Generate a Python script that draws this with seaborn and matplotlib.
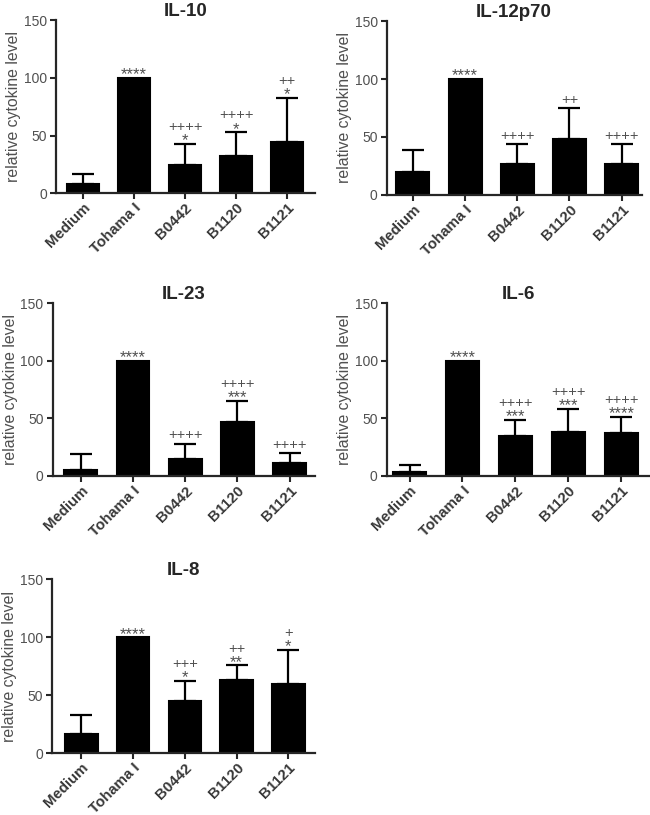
import matplotlib
matplotlib.use('Agg')
import matplotlib.pyplot as plt
import seaborn as sns
import pandas as pd
import numpy as np

groups = ['Medium', 'Tohama I', 'B0442', 'B1120', 'B1121']
cytokines = ['IL-10', 'IL-12p70', 'IL-23', 'IL-6', 'IL-8']

# mean and SD (upper error only), plus significance marks (+ line, * line)
il10_mean = [8, 100, 24.5, 32.3, 44]
il10_sd = [9, 0, 18.5, 20.5, 38.5]
il10_plus = ['', '', '++++', '++++', '++']
il10_star = ['', '****', '*', '*', '*']

il12_mean = [19.3, 100, 26.8, 48.4, 26.8]
il12_sd = [19.7, 0, 16.8, 26.2, 16.8]
il12_plus = ['', '', '++++', '++', '++++']
il12_star = ['', '****', '', '', '']

il23_mean = [4.9, 100, 14.7, 46.8, 11.6]
il23_sd = [13.9, 0, 13.3, 18.2, 8.1]
il23_plus = ['', '', '++++', '++++', '++++']
il23_star = ['', '****', '', '***', '']

il6_mean = [3.5, 100, 34.7, 38.2, 37.6]
il6_sd = [6.4, 0, 14.2, 19.8, 13.6]
il6_plus = ['', '', '++++', '++++', '++++']
il6_star = ['', '****', '***', '***', '****']

il8_mean = [16.7, 100, 45.2, 62.8, 59.3]
il8_sd = [16.1, 0, 17, 12.9, 29.6]
il8_plus = ['', '', '+++', '++', '+']
il8_star = ['', '****', '*', '**', '*']

means = [il10_mean, il12_mean, il23_mean, il6_mean, il8_mean]
sds = [il10_sd, il12_sd, il23_sd, il6_sd, il8_sd]
pluses = [il10_plus, il12_plus, il23_plus, il6_plus, il8_plus]
stars = [il10_star, il12_star, il23_star, il6_star, il8_star]

sns.set_style('ticks')
plt.rcParams['font.family'] = ['Liberation Sans', 'DejaVu Sans']

fig = plt.figure(figsize=(6.5, 8.15), dpi=100)

# axes boxes in figure fractions: left, bottom, width, height
boxes = [
    [0.086, 0.763, 0.399, 0.212],
    [0.595, 0.761, 0.392, 0.213],
    [0.081, 0.416, 0.404, 0.212],
    [0.595, 0.416, 0.405, 0.212],
    [0.080, 0.076, 0.405, 0.213],
]
xlims = [(-0.53, 4.55), (-0.5, 4.38), (-0.54, 4.49), (-0.43, 4.54), (-0.57, 4.52)]

grey = '#505050'
for i, name in enumerate(cytokines):
    ax = fig.add_axes(boxes[i])
    df = pd.DataFrame({'group': groups, 'value': means[i], 'sd': sds[i]})
    sns.barplot(data=df, x='group', y='value', color='black', width=0.63,
                saturation=1, errorbar=None, edgecolor='black', linewidth=1.5, ax=ax)
    x = np.arange(len(groups))
    has_err = (df['sd'] > 0).values
    ax.errorbar(x[has_err], df['value'][has_err], yerr=[np.zeros(has_err.sum()), df['sd'][has_err]],
                fmt='none', ecolor='black', elinewidth=1.6, capsize=8, capthick=1.6, zorder=0.5)
    for xi, m, s, p, st in zip(x, df['value'], df['sd'], pluses[i], stars[i]):
        top = m + s
        if st:
            ax.annotate(st, (xi, top), xytext=(0, -1), textcoords='offset points',
                        ha='center', va='baseline', fontsize=12, color=grey)
            poff = 9.3
        else:
            poff = 3.3
        if p:
            ax.annotate(p, (xi, top), xytext=(0, poff), textcoords='offset points',
                        ha='center', va='baseline', fontsize=10.5, color=grey)
    ax.set_ylim(0, 150)
    ax.set_xlim(*xlims[i])
    ax.set_yticks([0, 50, 100, 150])
    ax.set_xlabel('')
    ax.set_ylabel('relative cytokine level', fontsize=11.4, color=grey, labelpad=2)
    ax.set_title(name, fontsize=13.5, fontweight='bold', pad=3)
    ax.set_xticks(x)
    ax.set_xticklabels(groups, rotation=45, ha='right', rotation_mode='anchor',
                       fontweight='bold', fontsize=10.8, color='#383838')
    ax.tick_params(axis='y', labelsize=10, labelcolor=grey, length=4.5, pad=2)
    ax.tick_params(axis='x', length=4, pad=1.5)
    ax.tick_params(axis='both', width=1.5)
    for sp in ['left', 'bottom']:
        ax.spines[sp].set_linewidth(1.6)
    sns.despine(ax=ax)

fig.savefig('out.png', dpi=100)
